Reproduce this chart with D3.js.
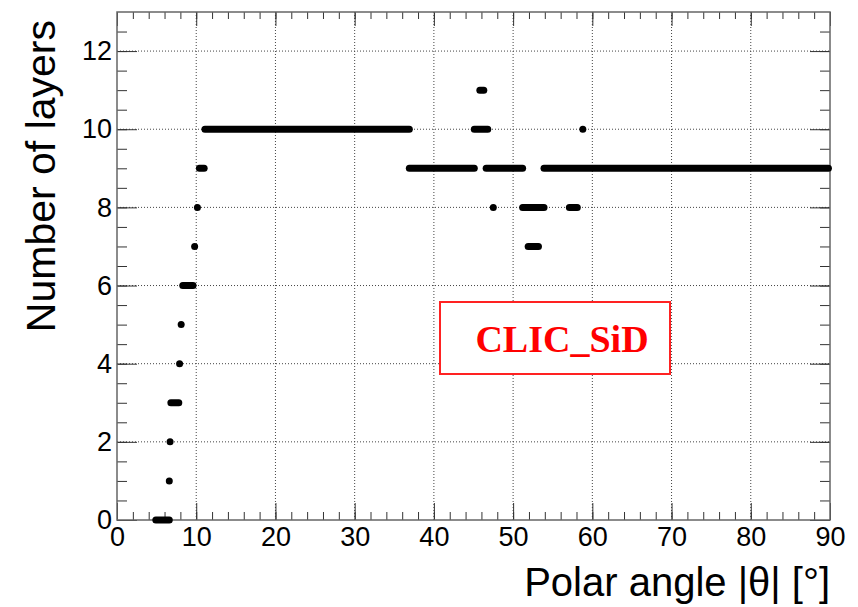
<!DOCTYPE html>
<html>
<head>
<meta charset="utf-8">
<script src="https://cdn.jsdelivr.net/npm/d3@7"></script>
<style>
  body { margin: 0; background: #fff; }
  svg text { font-family: "Liberation Sans", Arial, sans-serif; }
</style>
</head>
<body>
<div id="chart"></div>
<script>
// runs of constant layer count: theta from, theta to, number of layers
const runStart  = [4.9, 6.6, 6.7, 6.8, 7.9, 8.1, 8.3, 9.8, 10.15, 10.4, 11.1, 36.9, 45.1, 45.8, 47.5, 46.6, 51.2, 51.9, 53.9, 57.1, 58.8];
const runEnd    = [6.6, 6.6, 6.7, 7.8, 7.9, 8.1, 9.6, 9.8, 10.15, 11.0, 36.9, 45.1, 46.8, 46.3, 47.5, 51.2, 53.9, 53.2, 89.8, 58.1, 58.8];
const runLayers = [0,   1,   2,   3,   4,   5,   6,   7,   8,     9,    10,   9,    10,   11,   8,    9,    8,    7,    9,    8,    10];

const xTicks = [0, 10, 20, 30, 40, 50, 60, 70, 80, 90];
const yTicks = [0, 2, 4, 6, 8, 10, 12];
const label = "CLIC_SiD";

const W = 858, H = 607;
const pL = 117, pR = 830, pT = 12, pB = 520;

const svg = d3.select("#chart").append("svg")
  .attr("width", W)
  .attr("height", H);

const x = d3.scaleLinear().domain([0, 90]).range([pL, pR]);
const y = d3.scaleLinear().domain([0, 13]).range([pB, pT]);

// grid
svg.append("g").selectAll("line")
  .data(xTicks.slice(1, -1))
  .enter().append("line")
  .attr("x1", d => x(d)).attr("x2", d => x(d))
  .attr("y1", pT).attr("y2", pB)
  .attr("stroke", "#444").attr("stroke-dasharray", "1,2");

svg.append("g").selectAll("line")
  .data(yTicks.slice(1))
  .enter().append("line")
  .attr("x1", pL).attr("x2", pR)
  .attr("y1", d => y(d)).attr("y2", d => y(d))
  .attr("stroke", "#444").attr("stroke-dasharray", "1,2");

// axes, ROOT style ticks pointing inward
function clean(g) {
  g.select(".domain").remove();
  g.selectAll(".tick line").attr("stroke", "#333");
}

svg.append("g")
  .attr("transform", `translate(0,${pB})`)
  .call(d3.axisBottom(x).tickValues(d3.range(0, 91, 2)).tickSize(-8).tickFormat(""))
  .call(clean);
svg.append("g")
  .attr("transform", `translate(0,${pB})`)
  .call(d3.axisBottom(x).tickValues(xTicks).tickSize(-17).tickPadding(7))
  .call(clean)
  .selectAll("text").attr("font-size", 27).attr("fill", "#000");

svg.append("g")
  .attr("transform", `translate(0,${pT})`)
  .call(d3.axisTop(x).tickValues(d3.range(0, 91, 2)).tickSize(-7).tickFormat(""))
  .call(clean);
svg.append("g")
  .attr("transform", `translate(0,${pT})`)
  .call(d3.axisTop(x).tickValues(xTicks).tickSize(-14).tickFormat(""))
  .call(clean);

svg.append("g")
  .attr("transform", `translate(${pL},0)`)
  .call(d3.axisLeft(y).tickValues(d3.range(0, 13, 0.5)).tickSize(-10).tickFormat(""))
  .call(clean);
svg.append("g")
  .attr("transform", `translate(${pL},0)`)
  .call(d3.axisLeft(y).tickValues(yTicks).tickSize(-20).tickPadding(5))
  .call(clean)
  .selectAll("text").attr("font-size", 27).attr("fill", "#000");

svg.append("g")
  .attr("transform", `translate(${pR},0)`)
  .call(d3.axisRight(y).tickValues(d3.range(0, 13, 0.5)).tickSize(-10).tickFormat(""))
  .call(clean);
svg.append("g")
  .attr("transform", `translate(${pR},0)`)
  .call(d3.axisRight(y).tickValues(yTicks).tickSize(-20).tickFormat(""))
  .call(clean);

// frame
svg.append("rect")
  .attr("x", pL).attr("y", pT)
  .attr("width", pR - pL).attr("height", pB - pT)
  .attr("fill", "none").attr("stroke", "#666").attr("stroke-width", 1.5);

// markers: each run drawn as a thick round-capped stroke
svg.append("g").selectAll("line")
  .data(runLayers.map((v, i) => ({ a: runStart[i], b: runEnd[i], v })))
  .enter().append("line")
  .attr("x1", d => x(d.a)).attr("x2", d => x(d.b))
  .attr("y1", d => y(d.v)).attr("y2", d => y(d.v))
  .attr("stroke", "#000")
  .attr("stroke-width", 7)
  .attr("stroke-linecap", "round");

// label box
svg.append("rect")
  .attr("x", 440).attr("y", 302)
  .attr("width", 230).attr("height", 72)
  .attr("fill", "#fff").attr("stroke", "#f22").attr("stroke-width", 2);
svg.append("text")
  .attr("x", 562).attr("y", 352)
  .attr("text-anchor", "middle")
  .style("font-family", "'Liberation Serif', 'Times New Roman', serif")
  .attr("font-weight", "bold")
  .attr("font-size", 38)
  .attr("fill", "#f00")
  .text(label);

// axis titles
svg.append("text")
  .attr("x", pR).attr("y", 596)
  .attr("text-anchor", "end")
  .attr("font-size", 40)
  .text("Polar angle |θ| [°]");

svg.append("text")
  .attr("transform", `translate(55,20) rotate(-90)`)
  .attr("text-anchor", "end")
  .attr("font-size", 41)
  .text("Number of layers");
</script>
</body>
</html>
